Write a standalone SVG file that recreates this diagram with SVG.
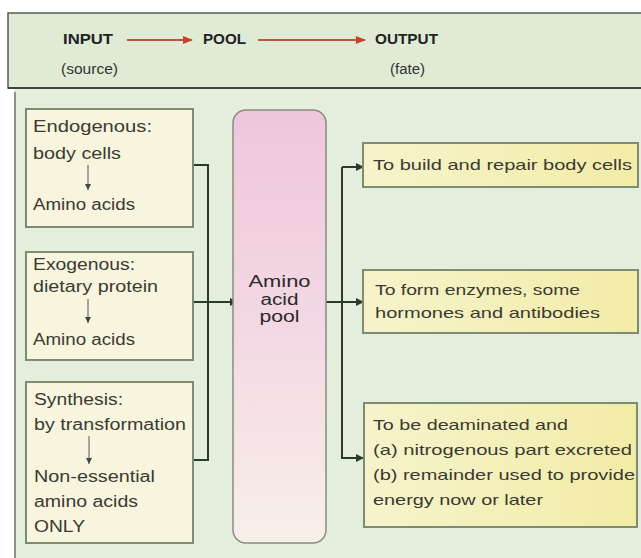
<svg xmlns="http://www.w3.org/2000/svg" width="641" height="558" viewBox="0 0 641 558">
<style>
.t{font-family:"Liberation Sans",Arial,sans-serif;fill:#3a3a32;font-size:16px}
.s{font-size:15px}
.h{font-family:"Liberation Sans",Arial,sans-serif;fill:#222;font-size:15px;font-weight:bold}
.hs{font-family:"Liberation Sans",Arial,sans-serif;fill:#333;font-size:14px}
.lb{fill:#f7f5de;stroke:#7e8c74;stroke-width:2}
.rb{fill:url(#yel);stroke:#7e8c74;stroke-width:2}
.c{fill:none;stroke:#2c3a2c;stroke-width:2}
.sa{fill:none;stroke:#555;stroke-width:1}
.ra{fill:none;stroke:#b8543f;stroke-width:2}
</style>
<defs>
<linearGradient id="pink" x1="0" y1="0" x2="0" y2="1">
<stop offset="0" stop-color="#efc6dc"/>
<stop offset="0.5" stop-color="#f3d8e4"/>
<stop offset="1" stop-color="#f8efe8"/>
</linearGradient>
<linearGradient id="yel" x1="0" y1="0" x2="1" y2="0">
<stop offset="0" stop-color="#f6f3cc"/>
<stop offset="1" stop-color="#f2eca6"/>
</linearGradient>
<marker id="ah" markerWidth="8" markerHeight="8" refX="7" refY="4" orient="auto" markerUnits="userSpaceOnUse">
<path d="M0,0 L8,4 L0,8 z" fill="#2c3a2c"/>
</marker>
<marker id="ahs" markerWidth="6" markerHeight="6" refX="6" refY="3" orient="auto" markerUnits="userSpaceOnUse">
<path d="M0,0 L6,3 L0,6 z" fill="#444"/>
</marker>
<marker id="ahr" markerWidth="10" markerHeight="8" refX="9" refY="4" orient="auto" markerUnits="userSpaceOnUse">
<path d="M0,0 L10,4 L0,8 z" fill="#c8402e"/>
</marker>
</defs>
<rect x="0" y="0" width="641" height="558" fill="#ffffff"/>
<rect x="14" y="89" width="630" height="470" fill="#e3efdc"/>
<line x1="15" y1="92" x2="15" y2="558" stroke="#8a9484" stroke-width="2"/>
<g id="header">
<rect x="8" y="13" width="640" height="75" fill="#dfebd5" stroke="#5a5a55" stroke-width="1.5"/>
<line x1="8" y1="88" x2="641" y2="88" stroke="#444" stroke-width="2"/>
<text class="h" x="63" y="44" textLength="50" lengthAdjust="spacingAndGlyphs">INPUT</text>
<text class="h" x="203" y="44" textLength="43" lengthAdjust="spacingAndGlyphs">POOL</text>
<text class="h" x="375" y="44" textLength="63" lengthAdjust="spacingAndGlyphs">OUTPUT</text>
<text class="hs" x="61" y="74" textLength="57" lengthAdjust="spacingAndGlyphs">(source)</text>
<text class="hs" x="390" y="74" textLength="35" lengthAdjust="spacingAndGlyphs">(fate)</text>
<path class="ra" d="M127,40 H192" marker-end="url(#ahr)"/>
<path class="ra" d="M258,40 H365" marker-end="url(#ahr)"/>
</g>
<g id="connectors">
<path class="c" d="M193,165 H208 V460 H193"/>
<path class="c" d="M193,302 H237" marker-end="url(#ah)"/>
<path class="c" d="M320,302 H363" marker-end="url(#ah)"/>
<path class="c" d="M342,167 H363" marker-end="url(#ah)"/>
<path class="c" d="M342,167 V458 H363" marker-end="url(#ah)"/>
</g>
<g id="endogenous">
<rect class="lb" x="26" y="109" width="167" height="118"/>
<text class="t" x="33" y="132" textLength="119" lengthAdjust="spacingAndGlyphs">Endogenous:</text>
<text class="t" x="33" y="159" textLength="88" lengthAdjust="spacingAndGlyphs">body cells</text>
<path class="sa" d="M88,165 V190" marker-end="url(#ahs)"/>
<text class="t" x="33" y="210" textLength="102" lengthAdjust="spacingAndGlyphs">Amino acids</text>
</g>
<g id="exogenous">
<rect class="lb" x="26" y="252" width="167" height="108"/>
<text class="t" x="33" y="270" textLength="102" lengthAdjust="spacingAndGlyphs">Exogenous:</text>
<text class="t" x="33" y="292" textLength="125" lengthAdjust="spacingAndGlyphs">dietary protein</text>
<path class="sa" d="M88,299 V323" marker-end="url(#ahs)"/>
<text class="t" x="33" y="345" textLength="102" lengthAdjust="spacingAndGlyphs">Amino acids</text>
</g>
<g id="synthesis">
<rect class="lb" x="26" y="382" width="167" height="161"/>
<text class="t" x="34" y="405" textLength="89" lengthAdjust="spacingAndGlyphs">Synthesis:</text>
<text class="t" x="34" y="430" textLength="152" lengthAdjust="spacingAndGlyphs">by transformation</text>
<path class="sa" d="M89,436 V464" marker-end="url(#ahs)"/>
<text class="t" x="34" y="482" textLength="121" lengthAdjust="spacingAndGlyphs">Non-essential</text>
<text class="t" x="34" y="507" textLength="104" lengthAdjust="spacingAndGlyphs">amino acids</text>
<text class="t" x="34" y="532" textLength="51" lengthAdjust="spacingAndGlyphs">ONLY</text>
</g>
<g id="pool">
<rect x="233" y="110" width="93" height="433" rx="13" ry="13" fill="url(#pink)" stroke="#8a8a80" stroke-width="1.5"/>
<text class="t" x="279.5" y="287" text-anchor="middle" textLength="62" lengthAdjust="spacingAndGlyphs" style="fill:#2a2a2a">Amino</text>
<text class="t" x="279.5" y="305" text-anchor="middle" textLength="38" lengthAdjust="spacingAndGlyphs" style="fill:#2a2a2a">acid</text>
<text class="t" x="279.5" y="322" text-anchor="middle" textLength="40" lengthAdjust="spacingAndGlyphs" style="fill:#2a2a2a">pool</text>
</g>
<g id="build">
<rect class="rb" x="363" y="143" width="275" height="44"/>
<text class="t s" x="373" y="170" textLength="259" lengthAdjust="spacingAndGlyphs">To build and repair body cells</text>
</g>
<g id="enzymes">
<rect class="rb" x="363" y="270" width="275" height="63"/>
<text class="t s" x="375" y="295" textLength="205" lengthAdjust="spacingAndGlyphs">To form enzymes, some</text>
<text class="t s" x="375" y="318" textLength="225" lengthAdjust="spacingAndGlyphs">hormones and antibodies</text>
</g>
<g id="deaminated">
<rect class="rb" x="364" y="403" width="273" height="124"/>
<text class="t s" x="373" y="430" textLength="195" lengthAdjust="spacingAndGlyphs">To be deaminated and</text>
<text class="t s" x="373" y="455" textLength="259" lengthAdjust="spacingAndGlyphs">(a) nitrogenous part excreted</text>
<text class="t s" x="373" y="480" textLength="262" lengthAdjust="spacingAndGlyphs">(b) remainder used to provide</text>
<text class="t s" x="373" y="505" textLength="170" lengthAdjust="spacingAndGlyphs">energy now or later</text>
</g>
</svg>
